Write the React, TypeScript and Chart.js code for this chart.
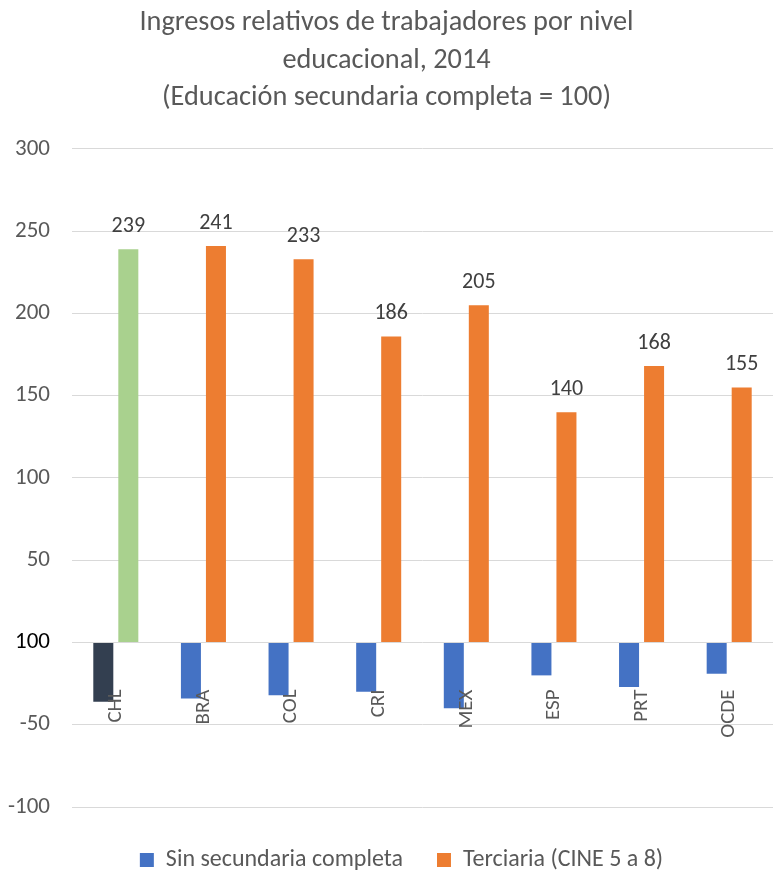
import React, { useEffect, useRef } from "react";
import { Chart, registerables } from "chart.js";

Chart.register(...registerables);

const categories = ["CHL", "BRA", "COL", "CRI", "MEX", "ESP", "PRT", "OCDE"];
const sinSecundaria = [-36, -34, -32, -30, -40, -20, -27, -19];
const terciaria = [239, 241, 233, 186, 205, 140, 168, 155];
const yTickValues = [-100, -50, 0, 50, 100, 150, 200, 250, 300];
const yTickLabels = ["-100", "-50", "100", "50", "100", "150", "200", "250", "300"];
const titleLines = [
  "Ingresos relativos de trabajadores por nivel",
  "educacional, 2014",
  "(Educación secundaria completa = 100)",
];
const seriesNames = ["Sin secundaria completa", "Terciaria (CINE 5 a 8)"];

const FONT = "Carlito, Calibri, Lato, sans-serif";
const BLUE = "#4472C4";
const ORANGE = "#ED7D31";
const DARK = "#333F50";
const GREEN = "#A9D18E";
const GRAY = "#595959";
const legendColors = [BLUE, ORANGE];

const overlayPlugin = {
  id: "overlay",
  afterLayout(chart: any) {
    const lg = chart.legend;
    if (lg) {
      lg.top += 7;
      lg.bottom += 7;
      lg.left += 15;
      lg.right += 15;
    }
  },
  afterDatasetsDraw(chart: any) {
    const ctx = chart.ctx;
    const meta = chart.getDatasetMeta(1);
    ctx.save();
    ctx.fillStyle = "#404040";
    ctx.font = `22px ${FONT}`;
    ctx.textAlign = "center";
    ctx.textBaseline = "alphabetic";
    meta.data.forEach((el: any, i: number) => {
      ctx.fillText(String(terciaria[i]), el.x, el.y - 17);
    });
    const xs = chart.scales.x;
    const ys = chart.scales.y;
    const y0 = ys.getPixelForValue(0) + 47;
    ctx.fillStyle = GRAY;
    ctx.font = `21px ${FONT}`;
    categories.forEach((c, i) => {
      const cx = xs.getPixelForValue(i);
      ctx.save();
      ctx.translate(cx, y0);
      ctx.rotate(-Math.PI / 2);
      ctx.textAlign = "right";
      ctx.textBaseline = "middle";
      ctx.fillText(c, 0, 0);
      ctx.restore();
    });
    ctx.restore();
  },
};

export default function App() {
  const ref = useRef<HTMLCanvasElement | null>(null);
  useEffect(() => {
    if (!ref.current) return;
    const chart = new Chart(ref.current, {
      type: "bar",
      data: {
        labels: categories,
        datasets: [
          {
            label: seriesNames[0],
            data: sinSecundaria,
            backgroundColor: sinSecundaria.map((_, i) => (i === 0 ? DARK : BLUE)),
            categoryPercentage: 0.571,
            barPercentage: 0.8,
          },
          {
            label: seriesNames[1],
            data: terciaria,
            backgroundColor: terciaria.map((_, i) => (i === 0 ? GREEN : ORANGE)),
            categoryPercentage: 0.571,
            barPercentage: 0.8,
          },
        ],
      },
      options: {
        animation: false,
        responsive: true,
        maintainAspectRatio: false,
        layout: { padding: { left: 0, right: 0, top: 0, bottom: -3 } },
        plugins: {
          title: {
            display: true,
            text: titleLines,
            color: GRAY,
            font: { family: FONT, size: 28.3, weight: "normal", lineHeight: 1.33 },
            padding: { top: 4, bottom: 32 },
          },
          legend: {
            position: "bottom",
            labels: {
              color: GRAY,
              boxWidth: 14,
              boxHeight: 14,
              padding: 34,
              font: { family: FONT, size: 24 },
              generateLabels: (ch: any) => {
                const items = Chart.defaults.plugins.legend.labels.generateLabels(ch);
                return items.map((it: any, i: number) => ({
                  ...it,
                  fillStyle: legendColors[i],
                  strokeStyle: legendColors[i],
                  lineWidth: 0,
                }));
              },
            },
          },
          tooltip: { enabled: false },
        },
        scales: {
          x: {
            display: false,
          },
          y: {
            min: -100,
            max: 300,
            afterBuildTicks(scale: any) {
              scale.ticks = yTickValues.map((v) => ({ value: v }));
            },
            afterFit(scale: any) {
              scale.width = 72;
            },
            ticks: {
              padding: 22,
              color: (c: any) => (c.tick && c.tick.value === 0 ? "#000000" : GRAY),
              font: { family: FONT, size: 23 },
              callback: (v: any) => {
                const idx = yTickValues.indexOf(Number(v));
                return idx >= 0 ? yTickLabels[idx] : "";
              },
            },
            grid: { color: "#d9d9d9", drawTicks: false, lineWidth: 1 },
            border: { display: false },
          },
        },
      },
      plugins: [overlayPlugin],
    });
    return () => chart.destroy();
  }, []);
  return (
    <div style={{ position: "fixed", left: 0, top: 0, width: 773, height: 872, background: "#fff" }}>
      <canvas ref={ref} />
    </div>
  );
}
